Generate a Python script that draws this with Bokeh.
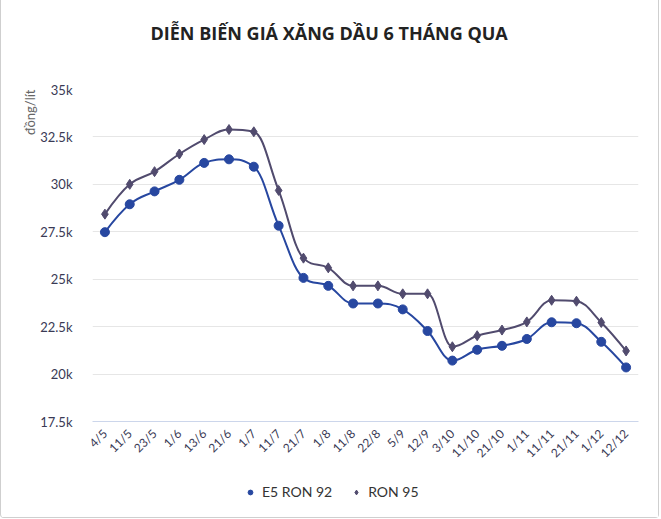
import math
from bokeh.plotting import figure
from bokeh.layouts import column
from bokeh.models import (Range1d, FixedTicker, Legend, LegendItem, Title,
                          ColumnDataSource)
from bokeh.embed import file_html
from bokeh.resources import INLINE

# ---------------- data ----------------
dates = ["4/5", "11/5", "23/5", "1/6", "13/6", "21/6", "1/7", "11/7", "21/7",
         "1/8", "11/8", "22/8", "5/9", "12/9", "3/10", "11/10", "21/10",
         "1/11", "11/11", "21/11", "1/12", "12/12"]
e5_ron92 = [27480, 28950, 29630, 30240, 31130, 31320, 30930, 27820, 25070,
            24650, 23720, 23720, 23410, 22270, 20710, 21280, 21490, 21850,
            22730, 22680, 21700, 20350]
ron95 = [28430, 30000, 30670, 31600, 32360, 32890, 32770, 29680, 26110,
         25600, 24650, 24650, 24230, 24230, 21440, 22020, 22320, 22750,
         23890, 23840, 22720, 21220]
y_ticks = [17500, 20000, 22500, 25000, 27500, 30000, 32500, 35000]
y_tick_labels = ["17.5k", "20k", "22.5k", "25k", "27.5k", "30k", "32.5k", "35k"]
title_text = "DIỄN BIẾN GIÁ XĂNG DẦU 6 THÁNG QUA"
y_title = "đồng/lít"
series_names = ["E5 RON 92", "RON 95"]

C_E5 = "#2747a0"
C_95 = "#514b6e"
LABEL_C = "#3a3a55"
FONT = "Lato"
W = 657


def spline_segments(xs, ys, smoothing=1.5):
    """Highcharts-style spline: bezier control points through the data."""
    n = len(xs)
    denom = smoothing + 1
    left = [(xs[i], ys[i]) for i in range(n)]
    right = [(xs[i], ys[i]) for i in range(n)]
    for i in range(1, n - 1):
        px, py = xs[i], ys[i]
        lx, ly = xs[i - 1], ys[i - 1]
        nx, ny = xs[i + 1], ys[i + 1]
        lcx = (smoothing * px + lx) / denom
        lcy = (smoothing * py + ly) / denom
        rcx = (smoothing * px + nx) / denom
        rcy = (smoothing * py + ny) / denom
        corr = 0.0
        if rcx != lcx:
            corr = ((rcy - lcy) * (rcx - px)) / (rcx - lcx) + py - rcy
        lcy += corr
        rcy += corr
        if lcy > ly and lcy > py:
            lcy = max(ly, py)
            rcy = 2 * py - lcy
        elif lcy < ly and lcy < py:
            lcy = min(ly, py)
            rcy = 2 * py - lcy
        if rcy > ny and rcy > py:
            rcy = max(ny, py)
            lcy = 2 * py - rcy
        elif rcy < ny and rcy < py:
            rcy = min(ny, py)
            lcy = 2 * py - rcy
        left[i] = (lcx, lcy)
        right[i] = (rcx, rcy)
    d = dict(x0=[], y0=[], x1=[], y1=[], cx0=[], cy0=[], cx1=[], cy1=[])
    for i in range(1, n):
        d["x0"].append(xs[i - 1]); d["y0"].append(ys[i - 1])
        d["x1"].append(xs[i]); d["y1"].append(ys[i])
        d["cx0"].append(right[i - 1][0]); d["cy0"].append(right[i - 1][1])
        d["cx1"].append(left[i][0]); d["cy1"].append(left[i][1])
    return ColumnDataSource(d)


xs = list(range(len(dates)))

p = figure(width=W, height=468, output_backend="svg", toolbar_location=None,
           title=None,
           x_range=Range1d(-0.5, len(dates) - 0.5),
           y_range=Range1d(y_ticks[0], y_ticks[-1]),
           min_border_left=91, min_border_right=20,
           min_border_top=89, min_border_bottom=41)
p.outline_line_color = None
p.background_fill_color = "white"
p.border_fill_color = "white"

# title: a blank spacer next to the frame, then the real title above it
p.add_layout(Title(text="\u00a0", text_font_size="25px"), "above")
p.add_layout(Title(text=title_text, align="left", offset=58,
                   text_font="Open Sans", text_font_size="18px",
                   text_font_style="bold", text_color="#222222"), "above")

# axes
p.xaxis.ticker = FixedTicker(ticks=xs)
p.xaxis.major_label_overrides = {i: d for i, d in enumerate(dates)}
p.xaxis.major_label_orientation = math.pi / 4
p.xaxis.axis_line_color = "#ccd6eb"
p.xaxis.major_tick_line_color = None
p.xaxis.minor_tick_line_color = None
p.xaxis.major_label_text_font = FONT
p.xaxis.major_label_text_font_size = "12px"
p.xaxis.major_label_text_color = LABEL_C
p.xaxis.major_label_standoff = 4

p.yaxis.ticker = FixedTicker(ticks=y_ticks)
p.yaxis.major_label_overrides = dict(zip(y_ticks, y_tick_labels))
p.yaxis.axis_line_color = None
p.yaxis.major_tick_line_color = None
p.yaxis.minor_tick_line_color = None
p.yaxis.major_label_text_font = FONT
p.yaxis.major_label_text_font_size = "13px"
p.yaxis.major_label_text_color = LABEL_C
p.yaxis.major_label_standoff = 14

# y-axis title, aligned to the top of the axis
p.add_layout(Title(text=y_title, align="right", standoff=0, text_font=FONT,
                   text_font_size="13px", text_font_style="normal",
                   text_color="#666666"), "left")

p.xgrid.grid_line_color = None
p.ygrid.grid_line_color = "#e6e6e6"

# lines
for vals, col in ((e5_ron92, C_E5), (ron95, C_95)):
    src = spline_segments(xs, vals)
    p.bezier(x0="x0", y0="y0", x1="x1", y1="y1", cx0="cx0", cy0="cy0",
             cx1="cx1", cy1="cy1", source=src, line_color=col, line_width=2,
             line_cap="round")

p.scatter(xs, e5_ron92, marker="circle", size=9, fill_color=C_E5,
          line_color=C_E5)
p.scatter(xs, ron95, marker="diamond", size=10, fill_color=C_95,
          line_color=C_95)

# legend strip below the chart (its renderers fall outside this strip's range)
lg = figure(width=W, height=49, output_backend="svg", toolbar_location=None,
            x_range=Range1d(-0.5, len(dates) - 0.5), y_range=Range1d(0, 1),
            min_border=0)
lg.axis.visible = False
lg.grid.grid_line_color = None
lg.outline_line_color = None
lg.border_fill_color = "white"
r1 = lg.scatter(xs, e5_ron92, marker="circle", size=9, fill_color=C_E5,
                line_color=C_E5)
r2 = lg.scatter(xs, ron95, marker="diamond", size=10, fill_color=C_95,
                line_color=C_95)
legend = Legend(items=[LegendItem(label=series_names[0], renderers=[r1]),
                       LegendItem(label=series_names[1], renderers=[r2])],
                orientation="horizontal", location=(152, 17),
                border_line_color=None, background_fill_alpha=0,
                padding=0, margin=0, spacing=18, glyph_width=12,
                glyph_height=16, label_height=16, label_standoff=6,
                label_text_font=FONT, label_text_font_size="14px",
                label_text_color="#333333")
lg.add_layout(legend, "center")

layout = column(p, lg, spacing=0,
                styles={"border-left": "1px solid #cfcfcf",
                        "border-right": "1px solid #cfcfcf",
                        "border-bottom": "1px solid #cfcfcf",
                        "border-bottom-left-radius": "4px",
                        "border-bottom-right-radius": "4px"})
open("out.html", "w").write(file_html(layout, INLINE))
